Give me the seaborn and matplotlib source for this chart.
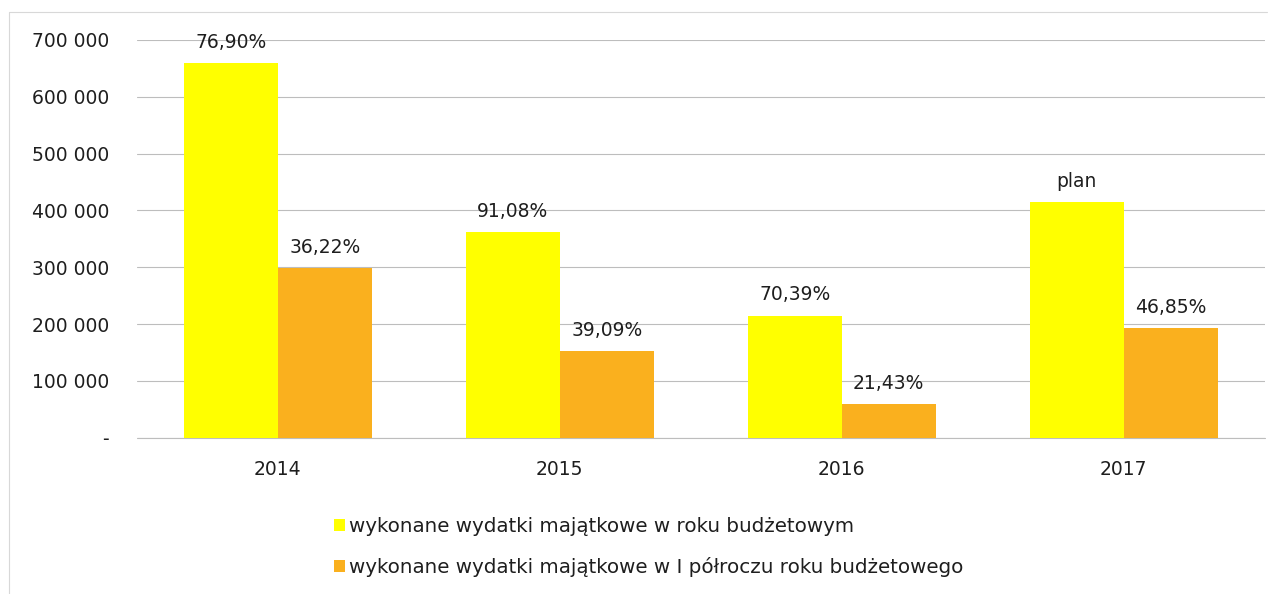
import seaborn as sns
import matplotlib.pyplot as plt
import matplotlib.ticker as ticker
import pandas as pd
from matplotlib.patches import Patch
from matplotlib.lines import Line2D

# values
years = ["2014", "2015", "2016", "2017"]
annual = [658500, 362500, 215000, 414000]
half_year = [299000, 153000, 59000, 193000]
annual_labels = ["76,90%", "91,08%", "70,39%", "plan"]
half_labels = ["36,22%", "39,09%", "21,43%", "46,85%"]
series_names = [
    "wykonane wydatki majątkowe w roku budżetowym",
    "wykonane wydatki majątkowe w I półroczu roku budżetowego",
]
y_ticks = [0, 100000, 200000, 300000, 400000, 500000, 600000, 700000]

colors = ["#FFFF00", "#FAB01E"]
font_size = 13.5
text_color = "#1E1E1E"

df = pd.DataFrame({
    "rok": years * 2,
    "wartosc": annual + half_year,
    "seria": [series_names[0]] * 4 + [series_names[1]] * 4,
})


def format_ticks(value, pos):
    if value == 0:
        return "-"
    return f"{int(value):,}".replace(",", " ")


sns.set_style("white")
plt.rcParams["font.family"] = ["DejaVu Sans"]

fig = plt.figure(figsize=(12.8, 5.94), dpi=100)
ax = fig.add_axes([0.107, 0.263, 0.881, 0.67])

sns.barplot(
    data=df, x="rok", y="wartosc", hue="seria", palette=colors,
    width=0.667, gap=0, linewidth=0, saturation=1, ax=ax, legend=False,
)

ax.bar_label(ax.containers[0], labels=annual_labels, padding=8, fontsize=font_size, color=text_color)
ax.bar_label(ax.containers[1], labels=half_labels, padding=8, fontsize=font_size, color=text_color)

ax.set_ylim(0, 700000)
ax.set_xlim(-0.5, 3.5)
ax.set_yticks(y_ticks)
ax.yaxis.set_major_formatter(ticker.FuncFormatter(format_ticks))
ax.yaxis.grid(True, color="#BDBDBD", linewidth=0.8)
ax.axhline(0, color="#BDBDBD", linewidth=0.8, clip_on=False, zorder=0.5)
ax.set_axisbelow(True)
for s in ax.spines.values():
    s.set_visible(False)
ax.tick_params(axis="both", length=0, labelsize=font_size, colors=text_color)
ax.tick_params(axis="y", pad=20)
ax.tick_params(axis="x", pad=16)
ax.set_xlabel("")
ax.set_ylabel("")

handles = [Patch(facecolor=c, edgecolor="none") for c in colors]
fig.legend(
    handles, series_names, loc="upper left", bbox_to_anchor=(0.255, 0.143),
    frameon=False, handlelength=0.55, handleheight=0.55,
    handletextpad=0.2, labelspacing=1.05, borderaxespad=0,
    prop={"size": 14.3}, labelcolor=text_color,
)

# faint chart-area border from the scan
fig.add_artist(Line2D([0.007, 0.007], [0.0, 0.98], color="#D8D8D8", linewidth=0.8))
fig.add_artist(Line2D([0.007, 0.99], [0.98, 0.98], color="#D8D8D8", linewidth=0.8))

plt.savefig("out.png", dpi=100)
